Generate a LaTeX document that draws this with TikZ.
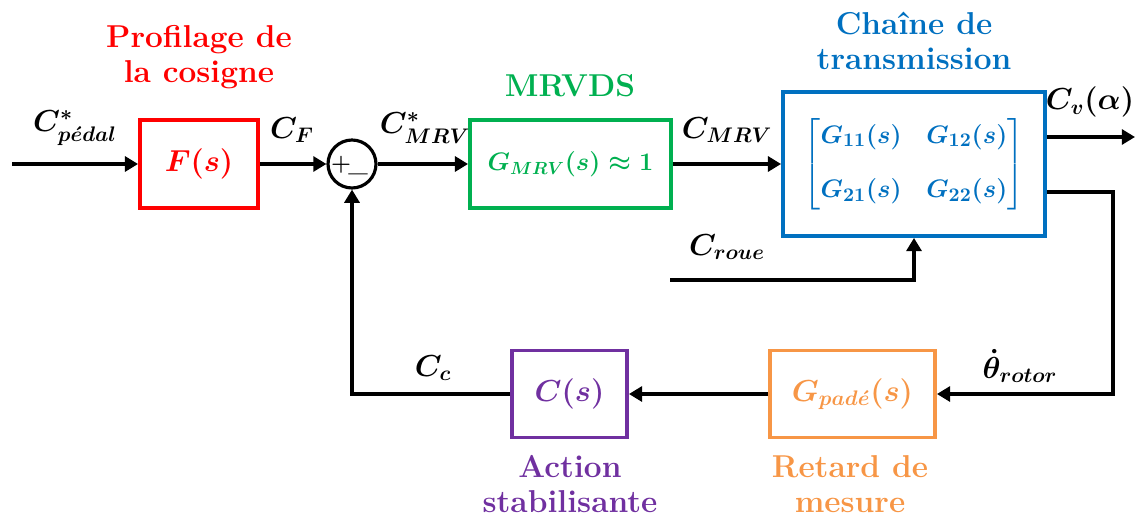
\documentclass[tikz,border=0pt]{standalone}
\usepackage{amsmath}
\usepackage{fontspec}
\usetikzlibrary{arrows.meta}

\definecolor{profil}{RGB}{255,0,0}
\definecolor{mrvds}{RGB}{0,176,80}
\definecolor{transm}{RGB}{0,112,192}
\definecolor{stabil}{RGB}{112,48,160}
\definecolor{retard}{RGB}{247,150,70}

\tikzset{
  blk/.style={draw=#1, text=#1, line width=2.2pt, inner sep=0pt,
    font=\fontsize{17}{20}\selectfont\boldmath},
  sig/.style={font=\fontsize{17}{19}\selectfont\boldmath},
  ttl/.style={text=#1, align=center, font=\fontsize{18}{20}\selectfont\bfseries},
  wire/.style={line width=2.2pt},
  arr/.style={wire, -{Triangle[length=7.5pt,width=8.5pt]}}
}

\begin{document}
\begin{tikzpicture}[x=0.02cm,y=-0.02cm,line cap=butt,line join=miter]
  \useasboundingbox (0,0) rectangle (1142,517);
  % blocs
  \node[blk=profil, minimum width=2.36cm, minimum height=1.76cm] (F) at (199,164) {$F(s)$};
  \node[draw, line width=1.8pt, circle, minimum size=0.96cm, inner sep=0pt] (sum) at (352,164) {};
  \node[blk=mrvds, minimum width=4.02cm, minimum height=1.76cm, font=\fontsize{14.5}{17}\selectfont\boldmath] (Gm) at (570.5,164) {$G_{MRV}(s)\approx 1$};
  \node[blk=transm, minimum width=5.24cm, minimum height=2.88cm, font=\fontsize{15}{18}\selectfont\boldmath] (T) at (914,164)
    {$\setlength{\arraycolsep}{7pt}\begin{bmatrix} G_{11}(s) & G_{12}(s)\\[13pt] G_{21}(s) & G_{22}(s)\end{bmatrix}$};
  \node[blk=retard, minimum width=3.3cm, minimum height=1.74cm] (Gp) at (852.5,394) {$G_{pad\acute{e}}(s)$};
  \node[blk=stabil, minimum width=2.3cm, minimum height=1.74cm] (C) at (569.5,394) {$C(s)$};
  % signes du comparateur
  \node[font=\fontsize{13}{13}\selectfont\bfseries] (plus) at (341,165) {+};
  \node[font=\fontsize{13}{13}\selectfont\bfseries] (moins) at (358,173) {\_};
  % points libres
  \coordinate (in) at (12,164);
  \coordinate (cv) at (1135,137);
  \coordinate (tr) at (1113,192);
  \coordinate (roue) at (670,280);
  % liaisons
  \draw[arr] (in) -- (F.west);
  \draw[arr] (F.east) -- (sum.west);
  \draw[arr] (sum.east) -- (Gm.west);
  \draw[arr] (Gm.east) -- (T.west);
  \draw[arr] (T.east |- cv) -- (cv);
  \draw[arr] (T.east |- tr) -- (tr) |- (Gp.east);
  \draw[arr] (Gp.west) -- (C.east);
  \draw[arr] (C.west) -| (sum.south);
  \draw[arr] (roue) -| (T.south);
  % signaux
  \node[sig] (cped) at (75,128) {$C^{*}_{p\acute{e}dal}$};
  \node[sig] (cf) at (292,130) {$C_F$};
  \node[sig] (cmrvs) at (425,128) {$C^{*}_{MRV}$};
  \node[sig] (cmrv) at (727,130) {$C_{MRV}$};
  \node[sig] (cvl) at (1090,102) {$C_v(\alpha)$};
  \node[sig] (croue) at (727,247) {$C_{roue}$};
  \node[sig] (thr) at (1020,366) {$\dot{\theta}_{rotor}$};
  \node[sig] (cc) at (433,368) {$C_c$};
  % titres
  \node[ttl=profil] (tF) at (199,57) {Profilage de\\la cosigne};
  \node[ttl=mrvds] (tGm) at (570,86) {MRVDS};
  \node[ttl=transm] (tT) at (914,41) {Chaîne de\\transmission};
  \node[ttl=stabil] (tC) at (570,484) {Action\\stabilisante};
  \node[ttl=retard] (tGp) at (850,484) {Retard de\\mesure};
\end{tikzpicture}
\end{document}
